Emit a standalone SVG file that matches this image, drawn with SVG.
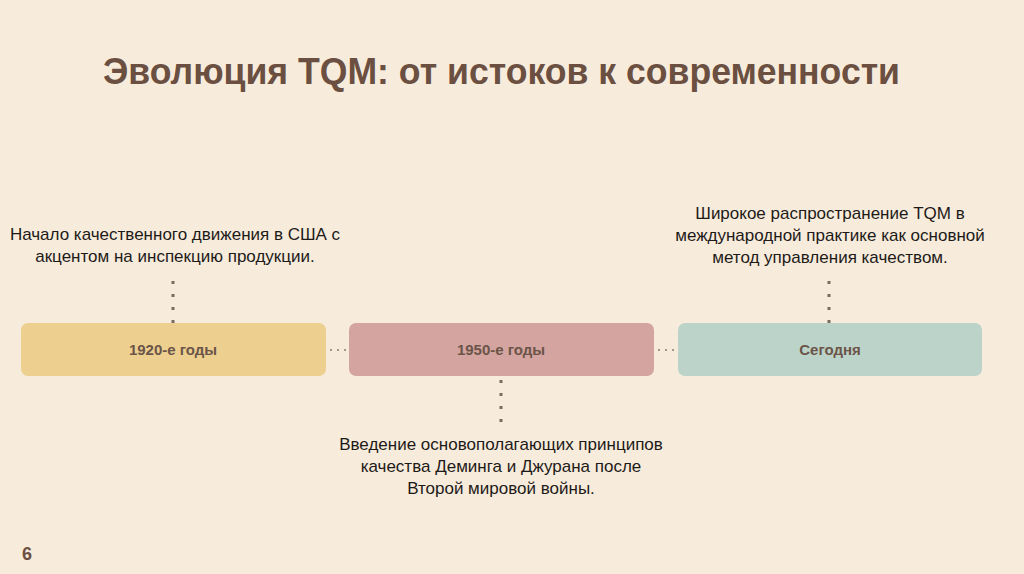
<svg xmlns="http://www.w3.org/2000/svg" width="1024" height="574" viewBox="0 0 1024 574">
<style>
.title{font-family:"Liberation Sans",Arial,sans-serif;font-weight:bold;font-size:36px;fill:#6B4F41}
.lbl{font-family:"Liberation Sans",Arial,sans-serif;font-weight:bold;font-size:15px;fill:#6B5548;text-anchor:middle}
.desc{font-family:"Liberation Sans",Arial,sans-serif;font-size:17px;fill:#1E1A18;text-anchor:middle}
.dot{stroke:#7A6A60;stroke-width:3;stroke-dasharray:3 10;fill:none}
.hdot{stroke:#A09890;stroke-width:2;stroke-dasharray:2 5;fill:none}
</style>
<rect width="1024" height="574" fill="#F7ECDC"/>
<text class="title" x="103" y="84" textLength="797" lengthAdjust="spacingAndGlyphs">Эволюция TQM: от истоков к современности</text>
<g id="connectors">
<line class="dot" x1="173" y1="281" x2="173" y2="324"/>
<line class="dot" x1="501" y1="380" x2="501" y2="423"/>
<line class="dot" x1="829" y1="281" x2="829" y2="324"/>
<line class="hdot" x1="330" y1="350" x2="347" y2="350"/>
<line class="hdot" x1="658" y1="350" x2="676" y2="350"/>
</g>
<g id="node1920">
<rect x="21" y="323" width="305" height="53" rx="7" fill="#EDCF8F"/>
<text class="lbl" x="173" y="355">1920-е годы</text>
</g>
<g id="node1950">
<rect x="349" y="323" width="305" height="53" rx="7" fill="#D4A4A0"/>
<text class="lbl" x="501" y="355">1950-е годы</text>
</g>
<g id="nodeToday">
<rect x="678" y="323" width="304" height="53" rx="7" fill="#BBD3C9"/>
<text class="lbl" x="830" y="355">Сегодня</text>
</g>
<g id="desc1920">
<text class="desc" x="175" y="240">Начало качественного движения в США с</text>
<text class="desc" x="175" y="262">акцентом на инспекцию продукции.</text>
</g>
<g id="desc1950">
<text class="desc" x="501" y="450">Введение основополагающих принципов</text>
<text class="desc" x="501" y="472">качества Деминга и Джурана после</text>
<text class="desc" x="501" y="494">Второй мировой войны.</text>
</g>
<g id="descToday">
<text class="desc" x="830" y="219">Широкое распространение TQM в</text>
<text class="desc" x="830" y="241">международной практике как основной</text>
<text class="desc" x="830" y="263">метод управления качеством.</text>
</g>
<text x="22" y="560" font-family="Liberation Sans, Arial, sans-serif" font-weight="bold" font-size="18" fill="#6B4F41">6</text>
</svg>
